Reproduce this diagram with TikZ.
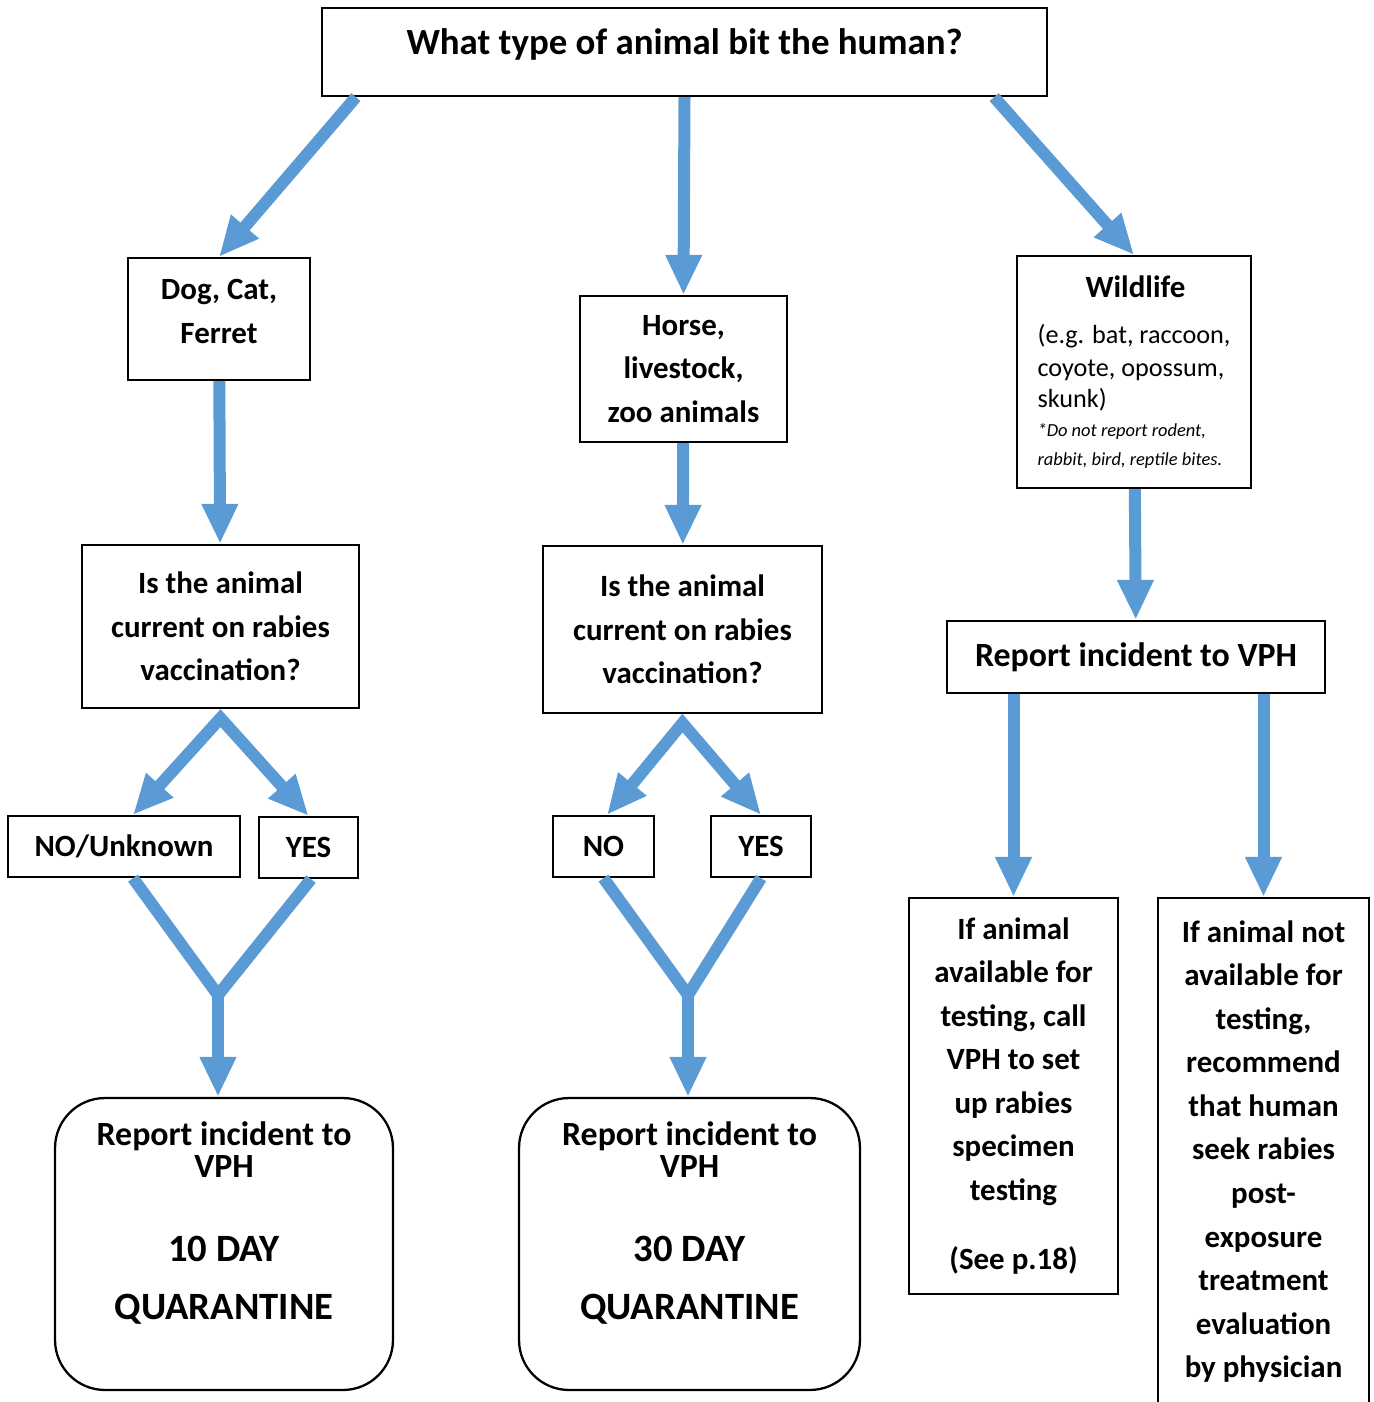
\documentclass[tikz,border=0pt]{standalone}
\usepackage{fontspec}
\setmainfont{Carlito}
\usepackage{xcolor}
\usepackage{tikz}
\usetikzlibrary{arrows.meta}
\definecolor{vphblue}{RGB}{91,155,213}
\newcommand{\fsbody}{\fontsize{17.6pt}{24.8pt}\selectfont\bfseries}
\newcommand{\fshead}{\fontsize{19.3pt}{24.8pt}\selectfont\bfseries}
\newcommand{\fstitle}{\fontsize{21pt}{24.8pt}\selectfont\bfseries}
\newcommand{\fsbig}{\fontsize{22pt}{24.8pt}\selectfont\bfseries}
\newcommand{\fsreg}{\fontsize{14.9pt}{24.8pt}\selectfont\mdseries}
\newcommand{\fsnote}{\fontsize{10.5pt}{24.8pt}\selectfont\mdseries\itshape}
\tikzset{
  boxnode/.style={draw, rectangle, line width=1.3pt, align=center, inner sep=2pt, font=\fsbody},
  headnode/.style={boxnode, font=\fshead},
  quarnode/.style={boxnode, rounded corners=1cm, font=\fshead, minimum width=6.8cm, minimum height=5.84cm},
  arrow/.style={->, >={Triangle[width=0.68cm, length=0.8cm]}, line width=0.24cm, draw=vphblue},
  forkarrow/.style={arrow, <->, line join=miter},
  branchline/.style={line width=0.24cm, draw=vphblue, line join=miter}
}

\begin{document}
\begin{tikzpicture}[x=0.02cm, y=-0.02cm]
\useasboundingbox (0,0) rectangle (1373,1402);

% Nodes
\node[headnode, font=\fstitle, text depth=0.4cm, minimum width=14.5cm, minimum height=1.76cm] (question) at (684.5,52) {What type of animal bit the human?};
\node[boxnode, text depth=0.3cm, minimum width=3.64cm, minimum height=2.44cm] (dog) at (219,319) {Dog, Cat,\\Ferret};
\node[boxnode, minimum width=4.14cm, minimum height=2.92cm] (horse) at (683.5,369) {Horse,\\livestock,\\zoo animals};
\node[boxnode, align=left, minimum width=4.68cm, minimum height=4.64cm] (wild) at (1134,372)
  {\hspace*{0.96cm}Wildlife\\[1.6pt]
   {\fsreg (e.g. bat, raccoon,}\\[-6.3pt]
   {\fsreg coyote, opossum,}\\[-6.9pt]
   {\fsreg skunk)}\\[-8.6pt]
   {\fsnote *Do not report rodent,}\\[-8pt]
   {\fsnote rabbit, bird, reptile bites.}};
\node[boxnode, minimum width=5.54cm, minimum height=3.26cm] (vaccL) at (220.5,626.5) {Is the animal\\current on rabies\\vaccination?};
\node[boxnode, minimum width=5.58cm, minimum height=3.34cm] (vaccM) at (682.5,629.5) {Is the animal\\current on rabies\\vaccination?};
\node[headnode, minimum width=7.56cm, minimum height=1.44cm] (reportW) at (1136,657) {Report incident to VPH};
\node[boxnode, minimum width=4.64cm, minimum height=1.22cm] (noL) at (124,846.5) {NO/Unknown};
\node[boxnode, minimum width=1.98cm, minimum height=1.22cm] (yesL) at (308.5,847.5) {YES};
\node[boxnode, minimum width=2.02cm, minimum height=1.22cm] (noM) at (603.5,846.5) {NO};
\node[boxnode, minimum width=2cm, minimum height=1.22cm] (yesM) at (761,846.5) {YES};
\node[quarnode, minimum width=6.76cm] (quarL) at (224,1244)
  {Report incident to\\[-6.5pt]VPH\\[23pt]{\fsbig 10 DAY}\\[7.9pt]{\fsbig QUARANTINE}\\[2pt]\mbox{}};
\node[quarnode, minimum width=6.82cm] (quarM) at (689.5,1244)
  {Report incident to\\[-6.5pt]VPH\\[23pt]{\fsbig 30 DAY}\\[7.9pt]{\fsbig QUARANTINE}\\[2pt]\mbox{}};
\node[boxnode, minimum width=4.18cm, minimum height=7.92cm] (avail) at (1013.5,1096)
  {If animal\\available for\\testing, call\\VPH to set\\up rabies\\specimen\\testing\\[14.7pt](See p.18)};
\node[boxnode, minimum width=4.22cm, minimum height=10.14cm] (notavail) at (1263.5,1151.5)
  {If animal not\\available for\\testing,\\recommend\\that human\\seek rabies\\post-\\exposure\\treatment\\evaluation\\by physician};

% Connections
\draw[arrow] ([xshift=0.7cm]question.south west) -- (dog.north);
\draw[arrow] (question.south) -- (horse.north);
\draw[arrow] ([xshift=-1.08cm]question.south east) -- (wild.north);
\draw[arrow] (dog) -- (vaccL);
\draw[arrow] (horse) -- (vaccM);
\draw[arrow] (wild) -- (reportW);

\draw[forkarrow] ([xshift=0.18cm]noL.north) -- ([yshift=-0.18cm]vaccL.south) -- (yesL.north);
\coordinate (mergeL) at (218,995);
\draw[branchline] ([xshift=0.18cm]noL.south) -- (mergeL) -- ([xshift=0.05cm]yesL.south);
\draw[arrow] (mergeL) -- (mergeL |- quarL.north);

\draw[forkarrow] ([xshift=0.07cm]noM.north) -- ([yshift=-0.18cm]vaccM.south) -- (yesM.north);
\coordinate (mergeM) at (688,995);
\draw[branchline] (noM.south) -- (mergeM) -- (yesM.south);
\draw[arrow] (mergeM) -- (mergeM |- quarM.north);

\draw[arrow] (reportW.south -| avail.north) -- (avail.north);
\draw[arrow] (reportW.south -| notavail.north) -- (notavail.north);

\end{tikzpicture}
\end{document}
